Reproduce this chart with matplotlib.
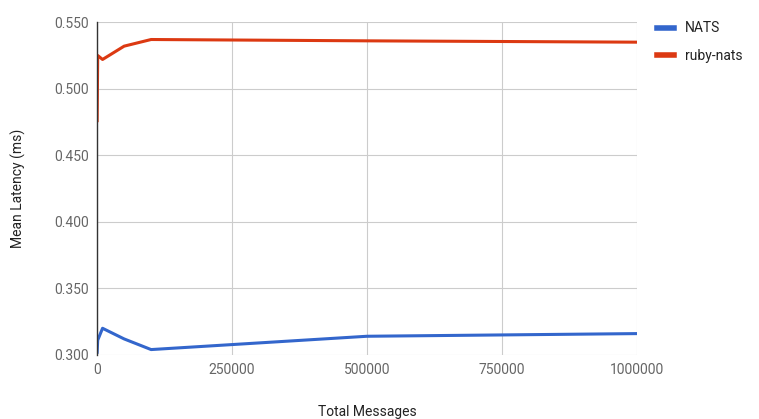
import matplotlib.pyplot as plt

plt.rcParams['font.family'] = ['Roboto', 'DejaVu Sans']

# message counts and mean latency (ms)
total_messages = [1, 1000, 10000, 50000, 100000, 500000, 1000000]
nats = [0.302, 0.311, 0.320, 0.312, 0.304, 0.314, 0.316]
ruby_nats = [0.476, 0.525, 0.522, 0.532, 0.537, 0.536, 0.535]

x_ticks = [0, 250000, 500000, 750000, 1000000]
y_ticks = [0.300, 0.350, 0.400, 0.450, 0.500, 0.550]

fig = plt.figure(figsize=(7.59, 4.19), dpi=100)
ax = fig.add_axes([0.128, 0.153, 0.711, 0.794])

ax.plot(total_messages, nats, color='#3366cc', lw=2.2, label='NATS')
ax.plot(total_messages, ruby_nats, color='#dc3912', lw=2.2, label='ruby-nats')

ax.set_xlim(0, 1000000)
ax.set_ylim(0.300, 0.550)
ax.set_xticks(x_ticks)
ax.set_xticklabels([str(t) for t in x_ticks])
ax.set_yticks(y_ticks)
ax.set_yticklabels(['%.3f' % t for t in y_ticks])

ax.grid(True, color='#cccccc', lw=0.8)
ax.set_axisbelow(True)
for side in ['top', 'right', 'bottom']:
    ax.spines[side].set_visible(False)
ax.spines['left'].set_color('#333333')
ax.spines['left'].set_linewidth(1.0)
ax.tick_params(length=0, labelsize=10, colors='#444444', pad=6)
for lab in ax.get_yticklabels() + ax.get_xticklabels():
    lab.set_color('#666666')

ax.set_xlabel('Total Messages', fontsize=10, color='#222222', labelpad=20)
ax.set_ylabel('Mean Latency (ms)', fontsize=10, color='#222222', labelpad=20)

ax.legend(loc='upper left', bbox_to_anchor=(1.015, 1.04), frameon=False,
          fontsize=10, handlelength=1.2, handleheight=0.4,
          labelspacing=0.95, labelcolor='#222222')
leg = ax.get_legend()
for line in leg.get_lines():
    line.set_linewidth(4)

fig.savefig('out.png', dpi=100)
